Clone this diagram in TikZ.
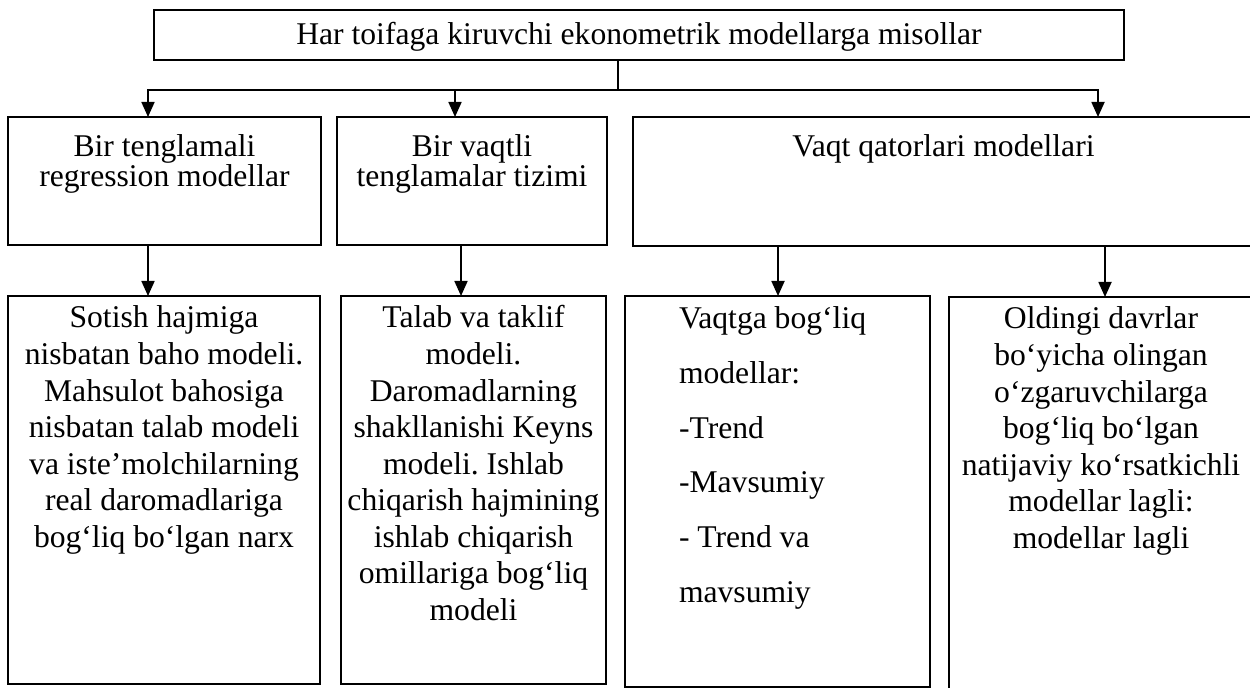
\documentclass[tikz,border=0pt]{standalone}
\usepackage{fontspec}
\setmainfont{Liberation Serif}
\usetikzlibrary{arrows.meta}
\frenchspacing

\newdimen\pxu \pxu=0.02cm
% cell text: width, height, first baseline (px), line spacing, alignment, lines
\newcommand{\cell}[6]{\parbox[t][#2\pxu][t]{#1\pxu}{\fontsize{18pt}{#4}\selectfont#5\rule{0pt}{#3\pxu}#6}}

\tikzset{
    box/.style={draw, line width=1pt, inner sep=0pt, outer sep=0pt, anchor=north west},
    link/.style={line width=1pt},
    arr/.style={link, -{Triangle[length=0.3cm, width=0.26cm]}},
}

\begin{document}
\begin{tikzpicture}[x=0.02cm, y=-0.02cm]
    \useasboundingbox (0,0) rectangle (1250,688);
    \clip (0,0) rectangle (1250,688);

    \node[box] (top) at (154,10) {\cell{970}{50}{35}{20pt}{\centering}{Har toifaga kiruvchi ekonometrik modellarga misollar}};

    \node[box] (single) at (8,117) {\cell{313}{128}{40}{17pt}{\centering}{Bir tenglamali\\ regression modellar}};
    \node[box] (simult) at (337,117) {\cell{270}{128}{40}{17pt}{\centering}{Bir vaqtli\\ tenglamalar tizimi}};
    \node[box] (series) at (633,117) {\cell{621}{129}{40}{17pt}{\centering}{Vaqt qatorlari modellari}};

    \node[box] (price) at (8,296) {\cell{312}{388}{32}{20.8pt}{\centering}{Sotish hajmiga\\ nisbatan baho modeli.\\ Mahsulot bahosiga\\ nisbatan talab modeli\\ va iste’molchilarning\\ real daromadlariga\\ bog‘liq bo‘lgan narx}};
    \node[box] (supply) at (341,296) {\cell{265}{388}{32}{20.8pt}{\centering}{Talab va taklif\\ modeli.\\ Daromadlarning\\ shakllanishi Keyns\\ modeli. Ishlab\\ chiqarish hajmining\\ ishlab chiqarish\\ omillariga bog‘liq\\ modeli}};
    \node[box] (trend) at (625,296) {\cell{305}{391}{33}{31.1pt}{\raggedright\leftskip=54\pxu}{Vaqtga bog‘liq\\ modellar:\\ -Trend\\ -Mavsumiy\\ - Trend va\\ mavsumiy}};
    \node[box] (lagged) at (949,297) {\cell{304}{400}{32}{20.8pt}{\centering}{Oldingi davrlar\\ bo‘yicha olingan\\ o‘zgaruvchilarga\\ bog‘liq bo‘lgan\\ natijaviy ko‘rsatkichli\\ modellar lagli:\\ modellar lagli}};

    \coordinate (split) at (618,90);
    \coordinate (barL) at (148,90);
    \coordinate (barM) at (455,90);
    \coordinate (barR) at (1098,90);
    \coordinate (k2) at (461,270);
    \coordinate (k3) at (778,270);
    \coordinate (k4) at (1105,270);

    \draw[link] (top.south -| split) -- (split);
    \draw[arr] (barM) -- (barL) -- (barL |- single.north);
    \draw[arr] (barM) -- (barR) -- (barR |- series.north);
    \draw[arr] (barM) -- (barM |- simult.north);

    \draw[arr] (barL |- single.south) -- (barL |- price.north);
    \draw[arr] (k2 |- simult.south) -- (k2 |- supply.north);
    \draw[arr] (k3 |- series.south) -- (k3 |- trend.north);
    \draw[arr] (k4 |- series.south) -- (k4 |- lagged.north);
\end{tikzpicture}
\end{document}
